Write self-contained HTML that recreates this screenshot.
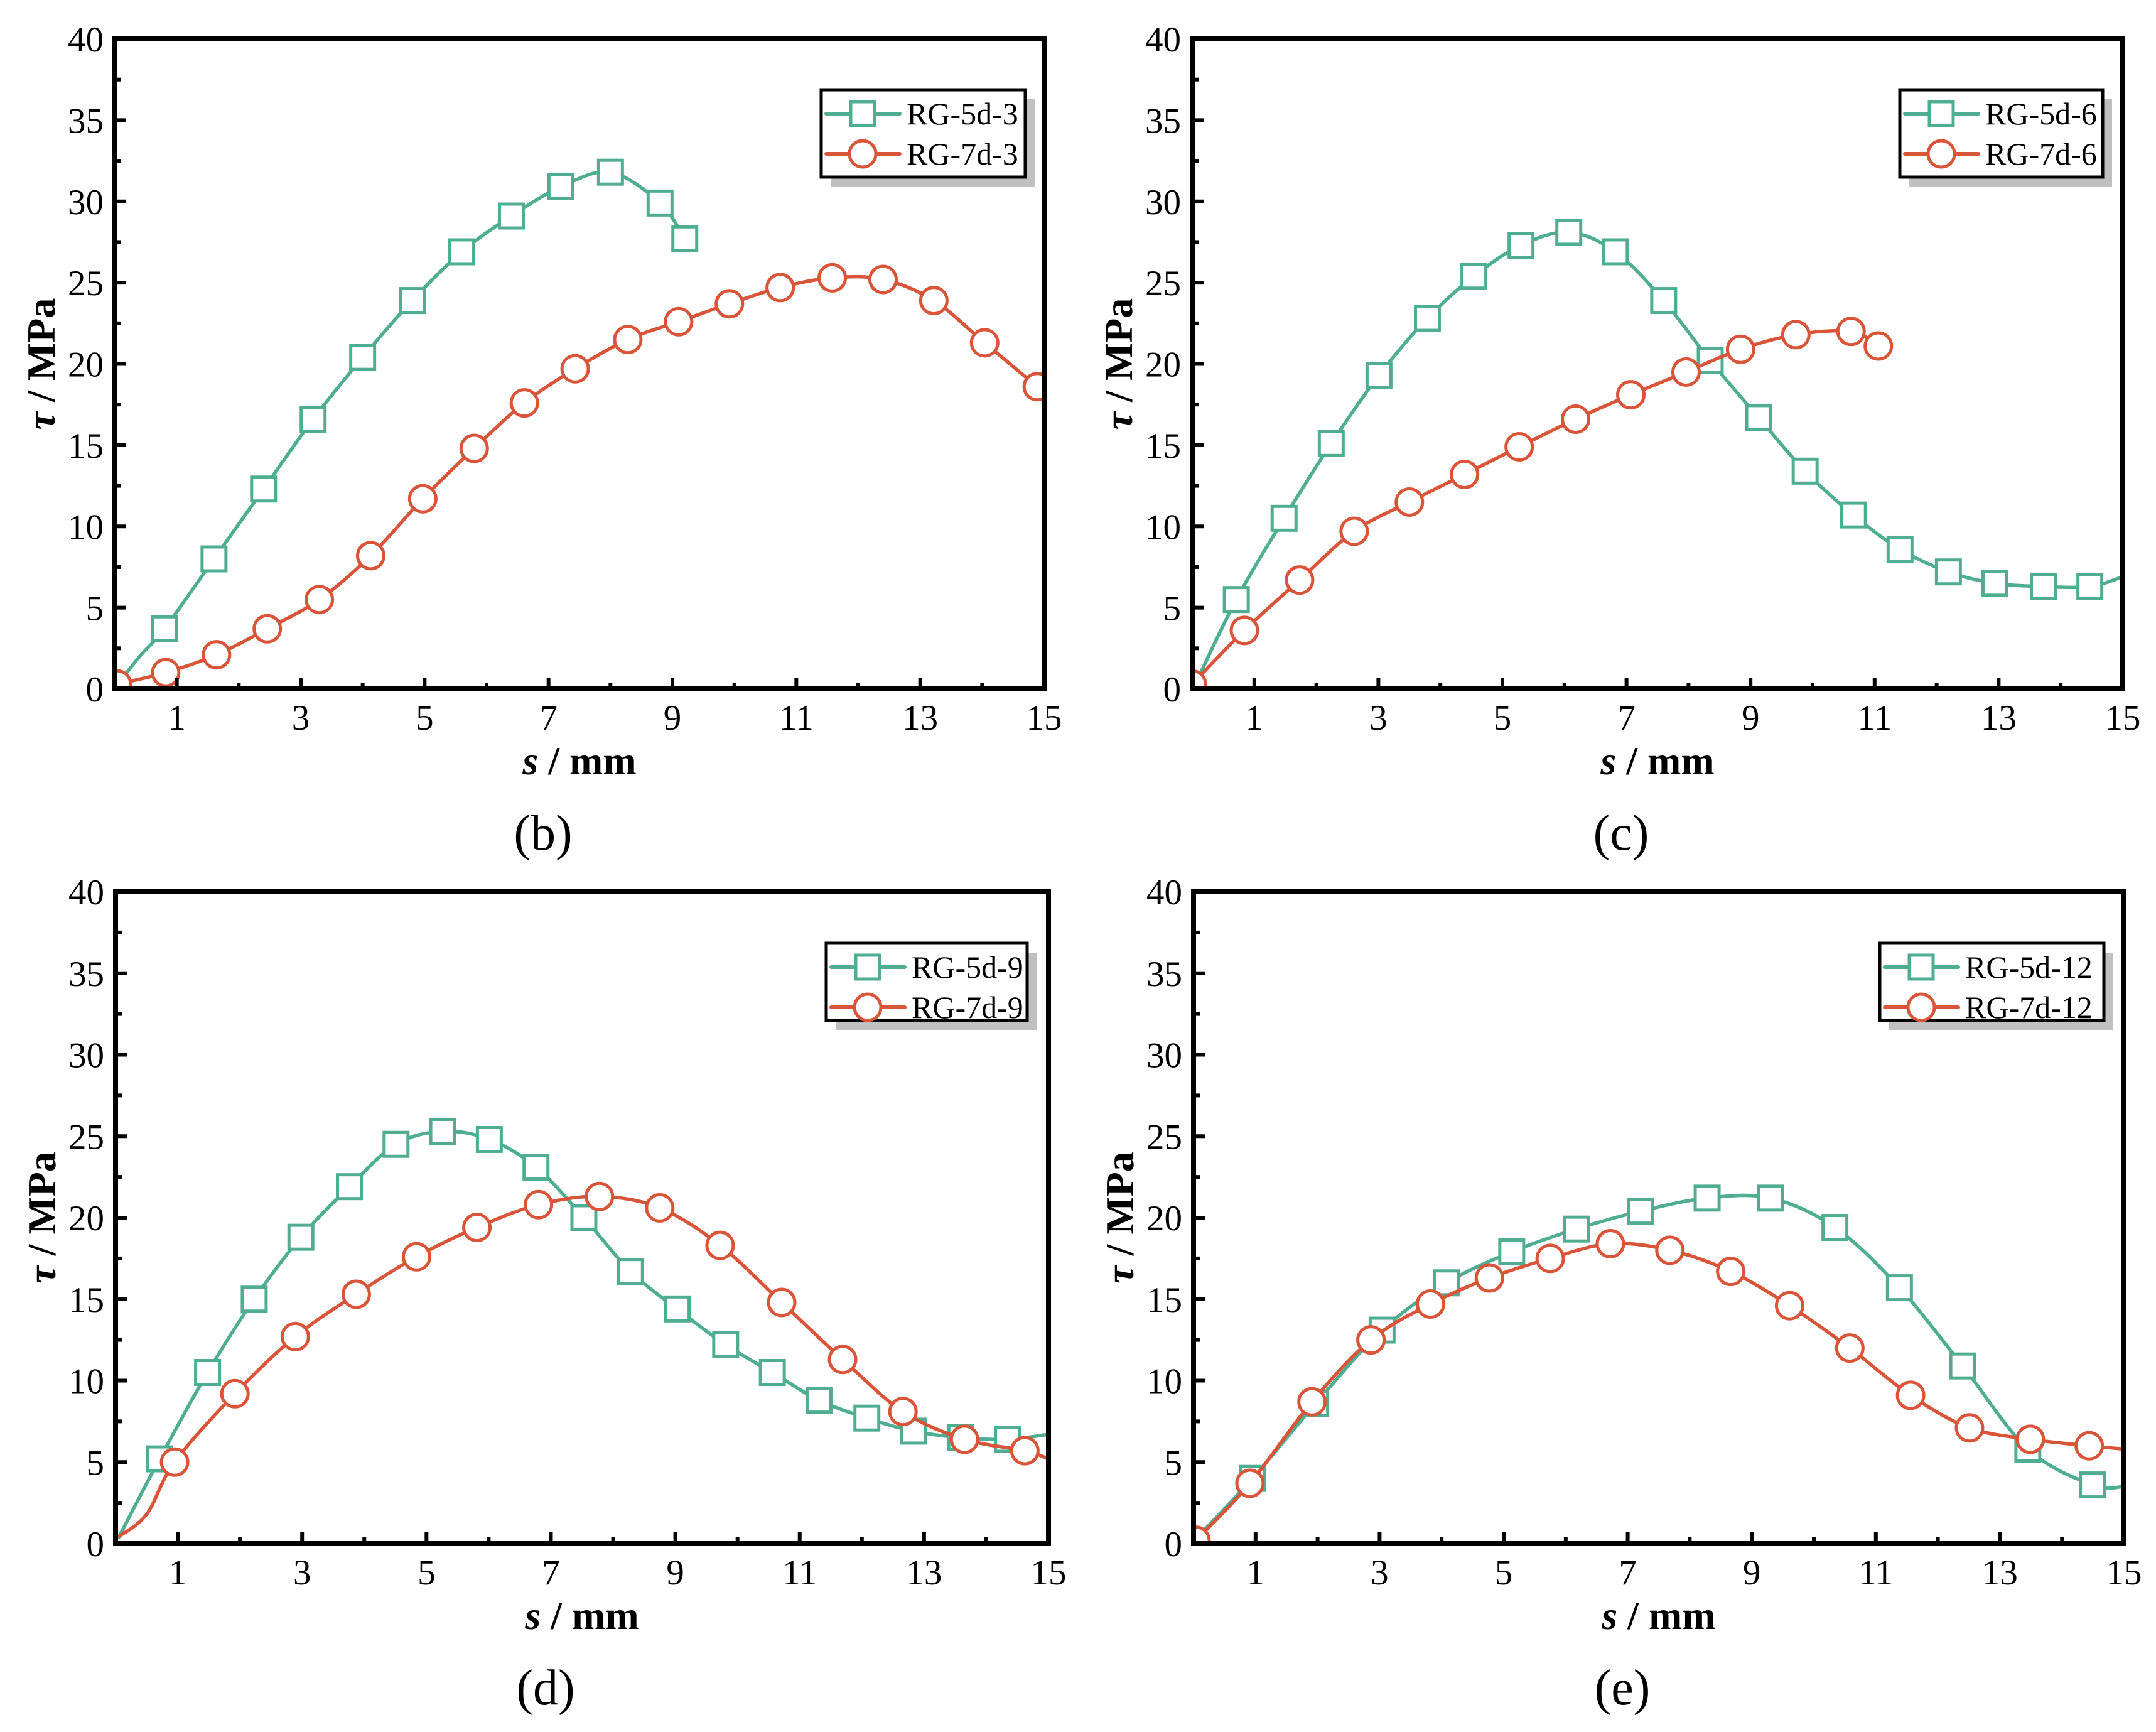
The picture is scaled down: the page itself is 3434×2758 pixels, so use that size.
<!DOCTYPE html>
<html><head><meta charset="utf-8"><style>
html,body{margin:0;padding:0;background:#fff;}
svg{display:block;font-family:"Liberation Serif",serif;}
</style></head><body>
<svg id="fig" width="3434" height="2758" viewBox="0 0 3434 2758" xmlns="http://www.w3.org/2000/svg"></svg>
<script>
// Shared axis data
const xTicks = [1,3,5,7,9,11,13,15];
const xMinor = [2,4,6,8,10,12,14];
const yTicks = [0,5,10,15,20,25,30,35,40];
const yMinor = [2.5,7.5,12.5,17.5,22.5,27.5,32.5,37.5];

// Panel (b)
const bGreenX = [0.05,0.4,0.8,1.6,2.4,3.2,4.0,4.8,5.6,6.4,7.2,8.0,8.8,9.2];
const bGreenY = [0.3,2.0,3.7,8.0,12.3,16.6,20.4,23.9,26.9,29.1,30.9,31.8,29.9,27.7];
const bRedX = [0.04,0.82,1.64,2.46,3.3,4.13,4.97,5.8,6.61,7.43,8.28,9.1,9.92,10.74,11.58,12.4,13.22,14.04,14.89];
const bRedY = [0.3,1.0,2.1,3.7,5.5,8.2,11.7,14.8,17.6,19.7,21.5,22.6,23.7,24.7,25.3,25.2,23.9,21.3,18.6];
// Panel (c)
const cGreenX = [0.05,0.71,1.48,2.24,3.01,3.79,4.54,5.3,6.07,6.82,7.6,8.35,9.13,9.88,10.66,11.41,12.19,12.94,13.72,14.47,15.0];
const cGreenY = [0.3,5.5,10.5,15.1,19.3,22.8,25.4,27.3,28.1,26.9,23.9,20.2,16.7,13.4,10.7,8.6,7.2,6.5,6.3,6.3,6.9];
const cRedX = [0.0,0.84,1.73,2.61,3.5,4.39,5.27,6.18,7.07,7.96,8.84,9.73,10.62,11.06];
const cRedY = [0.3,3.6,6.7,9.7,11.5,13.2,14.9,16.6,18.1,19.5,20.9,21.8,22.0,21.1];
// Panel (d)
const dGreenX = [0.04,0.71,1.48,2.23,2.98,3.76,4.51,5.26,6.01,6.76,7.53,8.28,9.03,9.81,10.56,11.31,12.08,12.83,13.59,14.34,15.0];
const dGreenY = [0.3,5.2,10.5,15.0,18.8,21.9,24.5,25.3,24.8,23.1,20.0,16.7,14.4,12.2,10.5,8.8,7.7,6.9,6.5,6.4,6.7];
const dRedX = [0.04,0.5,0.95,1.92,2.89,3.87,4.84,5.81,6.8,7.78,8.75,9.72,10.71,11.69,12.66,13.65,14.62,15.0];
const dRedY = [0.4,1.8,5.0,9.2,12.7,15.3,17.6,19.4,20.8,21.3,20.6,18.3,14.8,11.3,8.1,6.4,5.7,5.2];
// Panel (e)
const eGreenX = [0.04,0.95,1.97,3.04,4.08,5.13,6.17,7.21,8.28,9.3,10.34,11.38,12.4,13.45,14.49,15.0];
const eGreenY = [0.3,4.0,8.6,13.1,16.0,17.9,19.3,20.4,21.2,21.2,19.4,15.7,10.9,5.8,3.6,3.5];
const eRedX = [0.04,0.91,1.91,2.86,3.82,4.77,5.75,6.72,7.68,8.66,9.61,10.58,11.56,12.51,13.49,14.44,15.0];
const eRedY = [0.2,3.7,8.7,12.5,14.7,16.3,17.5,18.4,18.0,16.7,14.6,12.0,9.1,7.1,6.4,6.0,5.8];

const GREEN = "#4fae91", RED = "#d9553a";
const NS = "http://www.w3.org/2000/svg";
const fig = document.getElementById('fig');
function mk(tag, attrs, parent){ const e=document.createElementNS(NS,tag); for(const k in attrs) e.setAttribute(k,attrs[k]); (parent||fig).appendChild(e); return e; }

function spline(pts){
  let d = "M"+pts[0][0]+","+pts[0][1];
  for(let i=0;i<pts.length-1;i++){
    const p0=pts[i-1]||pts[i], p1=pts[i], p2=pts[i+1], p3=pts[i+2]||p2;
    const c1=[p1[0]+(p2[0]-p0[0])/6, p1[1]+(p2[1]-p0[1])/6];
    const c2=[p2[0]-(p3[0]-p1[0])/6, p2[1]-(p3[1]-p1[1])/6];
    d += " C"+c1[0]+","+c1[1]+" "+c2[0]+","+c2[1]+" "+p2[0]+","+p2[1];
  }
  return d;
}

function panel(cfg){
  const {id,L,R,T,B,gx,gy,rx,ry,labels,legend,cap,gSkip,rSkip} = cfg;
  const g = mk('g',{});
  
  
  const sx = v => L + (R-L)*v/15;
  const sy = v => B - (B-T)*v/40;
  const cp = mk('clipPath',{id:'clip'+id},g);
  mk('rect',{x:L,y:T,width:R-L,height:B-T},cp);
  const series = [[gx,gy,GREEN,'square',labels[0],gSkip],[rx,ry,RED,'circle',labels[1],rSkip]];
  series.forEach(([xs,ys,col,shape,lab,skip])=>{
    const sg = mk('g',{'clip-path':'url(#clip'+id+')'},g);
    
    
    const pts = xs.map((x,i)=>[sx(x),sy(ys[i])]);
    const p = mk('path',{d:spline(pts),fill:'none',stroke:col,'stroke-width':5.5},sg);
    
    
    xs.forEach((x,i)=>{
      if(skip.indexOf(i)>=0 || skip.indexOf(i-xs.length)>=0) return;
      let m;
      if(shape==='square') m = mk('rect',{x:sx(x)-19,y:sy(ys[i])-19,width:38,height:38,fill:'#fff',stroke:col,'stroke-width':5},sg);
      else m = mk('circle',{cx:sx(x),cy:sy(ys[i]),r:21,fill:'#fff',stroke:col,'stroke-width':5},sg);
      
      
    });
  });
  const fr = mk('rect',{x:L,y:T,width:R-L,height:B-T,fill:'none',stroke:'#000','stroke-width':8},g);
  
  
  xTicks.forEach(v=>{
    mk('line',{x1:sx(v),x2:sx(v),y1:B,y2:B-18,stroke:'#000','stroke-width':6},g);
    const t = mk('text',{x:sx(v),y:B+65,'font-size':57,'text-anchor':'middle'},g);
    t.textContent=v;
    
    
  });
  xMinor.forEach(v=>mk('line',{x1:sx(v),x2:sx(v),y1:B,y2:B-10,stroke:'#000','stroke-width':6},g));
  yTicks.forEach(v=>{
    mk('line',{x1:L,x2:L+18,y1:sy(v),y2:sy(v),stroke:'#000','stroke-width':6},g);
    const t = mk('text',{x:L-18,y:sy(v)+20,'font-size':57,'text-anchor':'end'},g);
    t.textContent=v;
    
    
  });
  yMinor.forEach(v=>mk('line',{x1:L,x2:L+10,y1:sy(v),y2:sy(v),stroke:'#000','stroke-width':6},g));
  const yt = mk('text',{x:0,y:0,'font-size':64,'font-weight':'bold','text-anchor':'middle',transform:'translate('+(L-96)+','+((T+B)/2)+') rotate(-90)'},g);
  yt.innerHTML = '<tspan font-style="italic">τ</tspan> / MPa';
  
  
  const xt = mk('text',{x:(L+R)/2,y:B+136,'font-size':64,'font-weight':'bold','text-anchor':'middle'},g);
  xt.innerHTML = '<tspan font-style="italic">s</tspan> / mm';
  
  
  const ct = mk('text',{x:(L+R)/2-58,y:B+256,'font-size':80,'text-anchor':'middle'},g);
  ct.textContent = cap;
  
  
  const [lx1,ly1,lx2,ly2] = legend;
  const lg = mk('g',{},g);
  
  
  mk('rect',{x:lx1+15,y:ly1+15,width:lx2-lx1,height:ly2-ly1,fill:'#c0c0c0'},lg);
  mk('rect',{x:lx1,y:ly1,width:lx2-lx1,height:ly2-ly1,fill:'#fff',stroke:'#000','stroke-width':5},lg);
  series.forEach(([xs,ys,col,shape,lab],i)=>{
    const cy = ly1 + 38 + i*64;
    const e = mk('g',{},lg);
    
    
    mk('line',{x1:lx1+8,x2:lx1+125,y1:cy,y2:cy,stroke:col,'stroke-width':6,'stroke-linecap':'round'},e);
    const mx = lx1+66;
    if(shape==='square') mk('rect',{x:mx-19,y:cy-19,width:38,height:38,fill:'#fff',stroke:col,'stroke-width':5},e);
    else mk('circle',{cx:mx,cy:cy,r:21,fill:'#fff',stroke:col,'stroke-width':5},e);
    const t = mk('text',{x:lx1+136,y:cy+17,'font-size':50},e);
    t.textContent = lab;
  });
}

panel({id:'b',L:183,R:1663,T:62,B:1097,gx:bGreenX,gy:bGreenY,rx:bRedX,ry:bRedY,labels:['RG-5d-3','RG-7d-3'],legend:[1308,143,1633,282],cap:'(b)',gSkip:[0,1],rSkip:[]});
panel({id:'c',L:1899,R:3381,T:62,B:1097,gx:cGreenX,gy:cGreenY,rx:cRedX,ry:cRedY,labels:['RG-5d-6','RG-7d-6'],legend:[3026,143,3349,282],cap:'(c)',gSkip:[0,-1],rSkip:[]});
panel({id:'d',L:184,R:1670,T:1420,B:2458,gx:dGreenX,gy:dGreenY,rx:dRedX,ry:dRedY,labels:['RG-5d-9','RG-7d-9'],legend:[1316,1502,1636,1625],cap:'(d)',gSkip:[0,-1],rSkip:[0,1,-1]});
panel({id:'e',L:1901,R:3383,T:1420,B:2458,gx:eGreenX,gy:eGreenY,rx:eRedX,ry:eRedY,labels:['RG-5d-12','RG-7d-12'],legend:[2994,1502,3351,1625],cap:'(e)',gSkip:[0,-1],rSkip:[-1]});
</script>
</body></html>
